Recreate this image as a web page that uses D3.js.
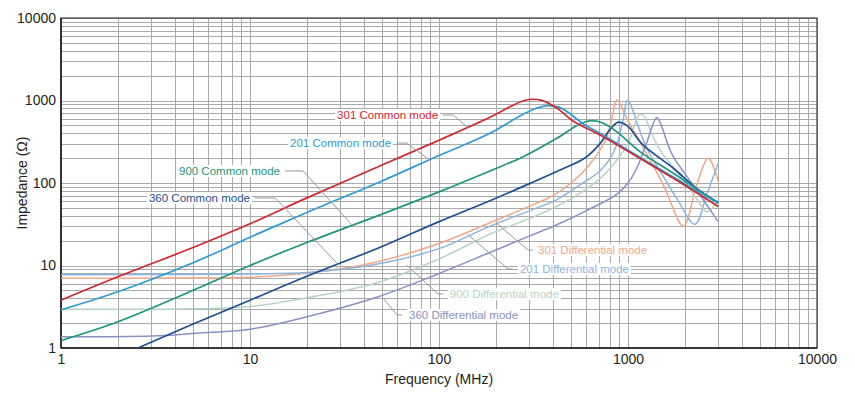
<!DOCTYPE html>
<html>
<head>
<meta charset="utf-8">
<script src="https://cdn.jsdelivr.net/npm/d3@7"></script>
<style>
  body { margin: 0; background: #fff; }
  #chart text { font-family: "Liberation Sans", Arial, Helvetica, sans-serif; }
</style>
</head>
<body>
<div id="chart"></div>
<script>

// Impedance vs frequency, [MHz, Ohm]
const cm301 = [[1,3.8],[2,7.3],[5,16.5],[10,32],[20,66],[50,165],[100,330],[186,626],[240,850],[275,980],[310,1035],[350,1005],[420,810],[514,560],[711,382],[1157,199],[1738,114],[3000,52]];
const cm201 = [[1,2.9],[2,4.8],[5,10.8],[10,22],[20,44],[50,106],[100,215],[186,400],[268,650],[330,810],[377,868],[430,830],[474,740],[580,520],[711,400],[1157,205],[1738,118],[3000,57]];
const cm900 = [[1,1.23],[2,2.08],[5,5],[10,10],[20,19],[50,42],[100,78],[186,140],[279,208],[420,348],[557,520],[643,569],[740,530],[871,419],[1157,240],[1738,131],[3000,57]];
const cm360 = [[2.55,1],[5,1.95],[10,3.8],[20,7.4],[50,17],[100,34],[186,61],[303,99],[437,144],[592,201],[711,300],[800,440],[882,544],[960,520],[1025,460],[1200,289],[1738,151],[2308,86],[3000,58]];
const dm301 = [[1,7.0],[5,7.05],[10,7.2],[22,8.3],[45,10.8],[100,18.5],[186,33],[300,52],[420,75],[557,125],[629,170],[711,250],[780,382],[830,680],[871,1014],[910,900],[984,608],[1157,316],[1538,95],[1963,30],[2308,95],[2661,199],[3000,104]];
const dm201 = [[1,7.7],[10,7.9],[20,8.2],[45,10.2],[100,16],[186,30],[300,46],[420,63],[557,95],[711,140],[800,195],[871,289],[945,608],[990,1000],[1035,880],[1112,553],[1256,264],[1538,120],[1811,65],[2262,31.6],[2608,72],[3000,173]];
const dm900 = [[1,2.94],[3,2.95],[5,3.0],[10,3.17],[18,3.9],[45,6],[100,12],[186,24],[300,37],[420,52],[557,75],[700,110],[850,175],[960,260],[1030,348],[1100,560],[1157,680],[1220,640],[1320,420],[1477,251],[1963,109],[2300,65],[2608,45],[2800,50],[3000,62]];
const dm360 = [[1,1.37],[3,1.4],[5,1.5],[10,1.69],[18,2.25],[45,4],[100,8],[186,14.4],[300,22.7],[420,31.2],[600,46],[871,73],[1000,100],[1112,151],[1250,300],[1419,620],[1500,500],[1620,300],[1738,208],[2000,130],[2308,82],[3000,34]];

const seriesNames = ["301 Differential mode","201 Differential mode","900 Differential mode","360 Differential mode",
                     "360 Common mode","900 Common mode","201 Common mode","301 Common mode"];
const seriesData = [dm301, dm201, dm900, dm360, cm360, cm900, cm201, cm301];

const xTickLabels = [1, 10, 100, 1000, 10000];
const yTickLabels = [1, 10, 100, 1000, 10000];

// label text start [MHz, Ohm] and leader path [MHz, Ohm]
const labelAt = {
  "301 Common mode": [28.9, 667],
  "201 Common mode": [16.3, 305],
  "900 Common mode": [4.21, 140],
  "360 Common mode": [2.92, 65.8],
  "301 Differential mode": [334, 15.4],
  "201 Differential mode": [268, 9.07],
  "900 Differential mode": [114, 4.51],
  "360 Differential mode": [69.4, 2.51]
};
const leaderAt = {
  "301 Common mode": [[105,667],[119,667],[141,477]],
  "201 Common mode": [[60,305],[67.7,305],[86.4,200]],
  "900 Common mode": [[15.3,140],[19.1,140],[35.1,30]],
  "360 Common mode": [[10.6,65.8],[13.6,65.8],[28.9,10.6]],
  "301 Differential mode": [[314,15.4],[296,15.4],[200,33]],
  "201 Differential mode": [[246,9.07],[232,9.07],[141,24.1]],
  "900 Differential mode": [[105,4.51],[98.8,4.51],[67.7,10.1]],
  "360 Differential mode": [[63.7,2.51],[60,2.51],[50.6,4.04]]
};

const colors = {
  "301 Common mode": "#d3262d",
  "201 Common mode": "#2f9bd6",
  "900 Common mode": "#1f967a",
  "360 Common mode": "#1f4f93",
  "301 Differential mode": "#f1a887",
  "201 Differential mode": "#8cb4df",
  "900 Differential mode": "#b6d3c6",
  "360 Differential mode": "#8a91c4"
};

const width = 855, height = 393;
const margin = {top: 18, right: 38, bottom: 45, left: 61};

const svg = d3.select("#chart").append("svg")
    .attr("width", width)
    .attr("height", height);

const x = d3.scaleLog().domain([1, 10000]).range([margin.left, width - margin.right]);
const y = d3.scaleLog().domain([1, 10000]).range([height - margin.bottom, margin.top]);

// grid lines at every 1..9 of each decade
let gridVals = [];
for (let p = 1; p <= 1000; p *= 10) for (let k = 1; k <= 9; k++) gridVals.push(k * p);
gridVals.push(10000);

const grid = svg.append("g").attr("shape-rendering", "crispEdges");
grid.selectAll("line.gx").data(gridVals).join("line")
    .attr("x1", d => Math.round(x(d)) + 0.5).attr("x2", d => Math.round(x(d)) + 0.5)
    .attr("y1", y(1)).attr("y2", y(10000))
    .attr("stroke", "#aaa").attr("stroke-width", 1);
grid.selectAll("line.gy").data(gridVals).join("line")
    .attr("y1", d => Math.round(y(d)) + 0.5).attr("y2", d => Math.round(y(d)) + 0.5)
    .attr("x1", x(1)).attr("x2", x(10000))
    .attr("stroke", "#aaa").attr("stroke-width", 1);

// frame
svg.append("rect")
    .attr("x", x(1)).attr("y", y(10000))
    .attr("width", x(10000) - x(1)).attr("height", y(1) - y(10000))
    .attr("fill", "none").attr("stroke", "#3a3a3a").attr("stroke-width", 1.2);
svg.append("line").attr("x1", x(1)).attr("x2", x(10000)).attr("y1", y(1)).attr("y2", y(1))
    .attr("stroke", "#222").attr("stroke-width", 1.6);
svg.append("line").attr("x1", x(1)).attr("x2", x(1)).attr("y1", y(1)).attr("y2", y(10000))
    .attr("stroke", "#222").attr("stroke-width", 1.6);

// curves
const line = d3.line()
    .x(d => x(d[0]))
    .y(d => y(d[1]))
    .curve(d3.curveCatmullRom.alpha(0.5));

svg.append("defs").append("clipPath").attr("id", "plotClip")
  .append("rect").attr("x", x(1)).attr("y", y(10000))
  .attr("width", x(10000) - x(1)).attr("height", y(1) - y(10000));

const curves = svg.append("g").attr("clip-path", "url(#plotClip)");
seriesData.forEach((s, i) => {
  const name = seriesNames[i];
  curves.append("path")
      .datum(s)
      .attr("d", line)
      .attr("fill", "none")
      .attr("stroke", colors[name])
      .attr("stroke-width", name.indexOf("Common") >= 0 ? 1.7 : 1.5)
      .attr("stroke-linejoin", "round");
});

// labels with white box and leader line
const labels = svg.append("g");
seriesNames.forEach(name => {
  const pos = labelAt[name];
  const lx = x(pos[0]), ly = y(pos[1]);
  labels.append("path")
      .datum(leaderAt[name])
      .attr("d", d3.line().x(d => x(d[0])).y(d => y(d[1])))
      .attr("fill", "none")
      .attr("stroke", "#9a9a9a")
      .attr("stroke-width", 1);
  const t = labels.append("text")
      .attr("x", lx).attr("y", ly)
      .attr("dy", "0.35em")
      .attr("font-size", 11.5)
      .attr("fill", colors[name])
      .text(name);
  const bb = t.node().getBBox();
  labels.insert("rect", () => t.node())
      .attr("x", bb.x - 2).attr("y", bb.y)
      .attr("width", bb.width + 4).attr("height", bb.height)
      .attr("fill", "#fff");
});

// axes
const xAxis = svg.append("g")
    .attr("transform", `translate(0,${y(1)})`)
    .call(d3.axisBottom(x).tickValues(xTickLabels).tickFormat(d3.format("d")).tickSize(0).tickPadding(6));
const yAxis = svg.append("g")
    .attr("transform", `translate(${x(1)},0)`)
    .call(d3.axisLeft(y).tickValues(yTickLabels).tickFormat(d3.format("d")).tickSize(0).tickPadding(5));
[xAxis, yAxis].forEach(a => {
  a.select(".domain").remove();
  a.selectAll("text").attr("font-size", 14).attr("fill", "#231f20")
      .attr("font-family", "'Liberation Sans', Arial, sans-serif");
});

svg.append("text")
    .attr("x", (x(1) + x(10000)) / 2).attr("y", 384)
    .attr("text-anchor", "middle").attr("font-size", 14).attr("fill", "#231f20")
    .text("Frequency (MHz)");
svg.append("text")
    .attr("transform", `translate(27,${(y(1) + y(10000)) / 2}) rotate(-90)`)
    .attr("text-anchor", "middle").attr("font-size", 14).attr("fill", "#231f20")
    .text("Impedance (Ω)");

</script>
</body>
</html>
